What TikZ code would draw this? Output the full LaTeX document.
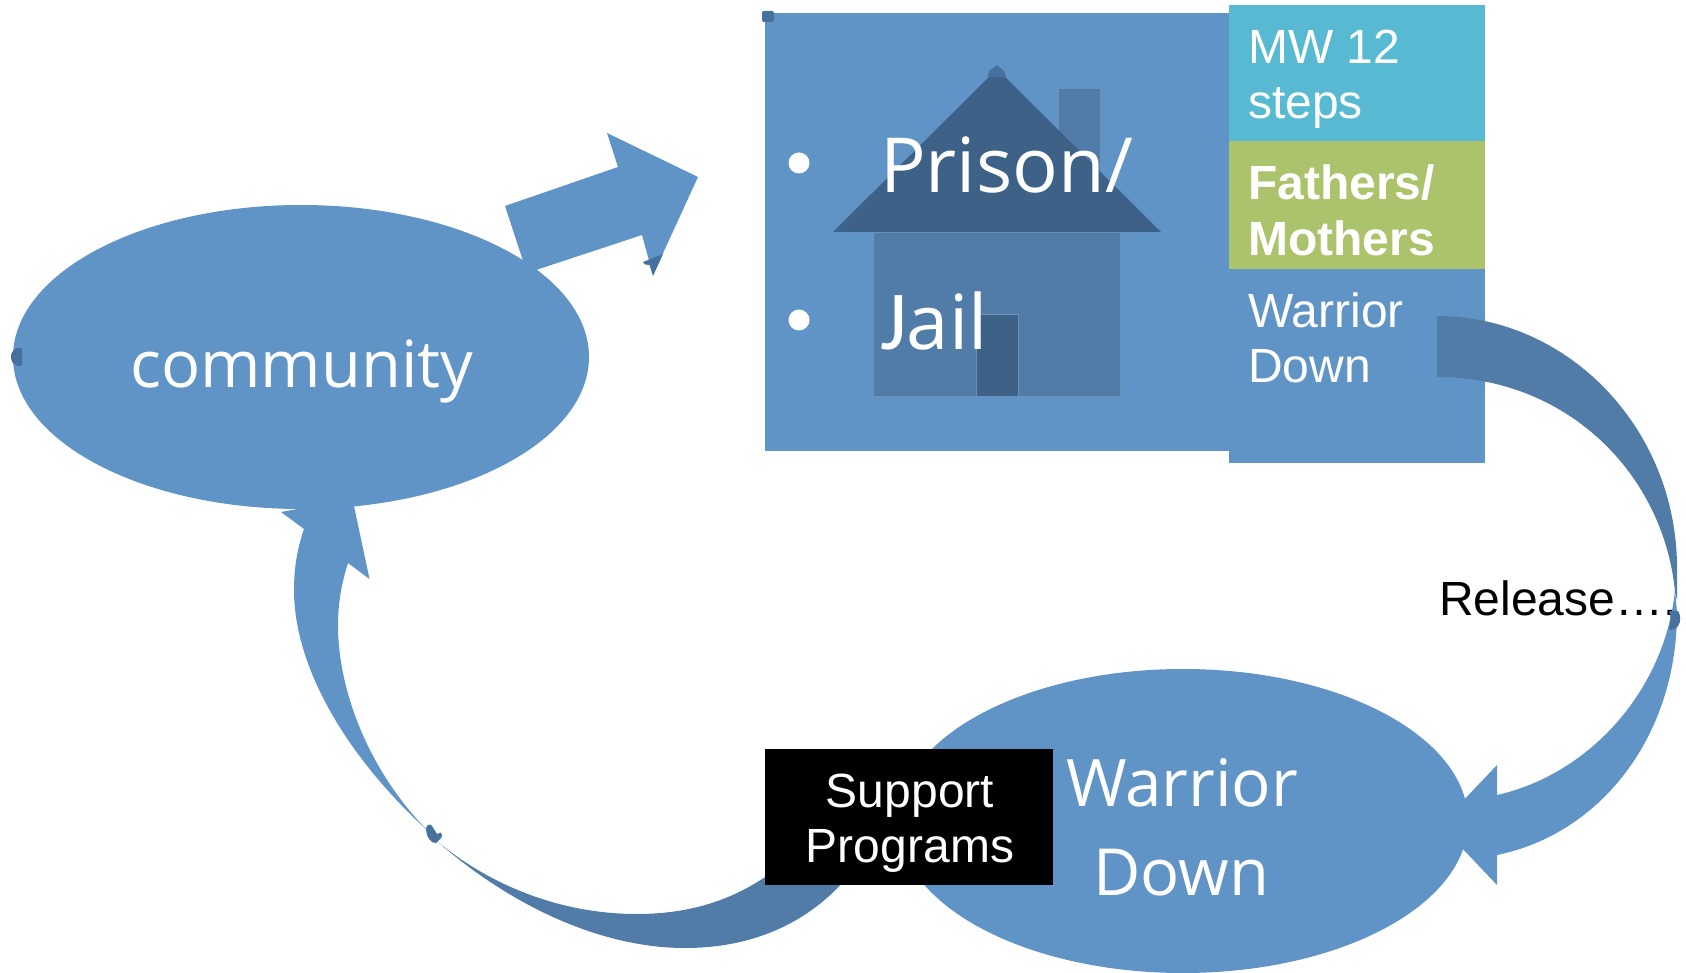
\documentclass[tikz,border=0pt]{standalone}
\usepackage{fontspec}
\setmainfont{Liberation Sans}
\newfontfamily\opensans{Open Sans}
\newfontfamily\carlito{Carlito}
\usetikzlibrary{shapes.geometric}
\definecolor{mainblue}{HTML}{6094C6}
\definecolor{darkarc}{HTML}{517CA8}
\definecolor{roofblue}{HTML}{3E6287}
\definecolor{handleblue}{HTML}{46719F}
\definecolor{houseline}{HTML}{6C90B6}
\definecolor{cyanbox}{HTML}{58B9D2}
\definecolor{greenbox}{HTML}{ABC46C}
\tikzset{
  lbl/.style={anchor=base west,inner sep=0pt,text=white},
  sanslarge/.style={lbl,font=\opensans\fontsize{76}{76}\selectfont},
  sansmid/.style={lbl,font=\opensans\fontsize{65}{65}\selectfont},
  arial/.style={lbl,font=\fontsize{48}{48}\selectfont},
  arialb/.style={lbl,font=\bfseries\fontsize{48}{48}\selectfont},
  ell/.style={ellipse,fill=mainblue,inner sep=0pt},
  panel/.style={anchor=north west,inner sep=0pt,outer sep=0pt},
  housepart/.style={draw=houseline,line width=0.6pt},
}
\begin{document}
\begin{tikzpicture}[x=1pt,y=-1pt]
\useasboundingbox (0,0) rectangle (1686,973);
% arrow from community to prison
\fill[mainblue] (505,206) -- (618,167) -- (607,133) -- (698,177) -- (653,275) -- (642,235) -- (527,273) -- cycle;
\fill[handleblue] (663,254) -- (653,276) -- (649.5,265) -- (645,264.5) -- (643,262) -- cycle;
% ellipses
\node[ell,minimum width=576pt,minimum height=304pt] (community) at (301,357) {};
\node[ell,minimum width=570pt,minimum height=304pt] (warrior) at (1183,821) {};
% right curved arrow: lower part
\fill[mainblue] (1677,612) .. controls (1677,737) and (1600,834) .. (1497,855)
  -- (1497,885) -- (1440,825) -- (1497,765) -- (1497,795)
  .. controls (1590,774) and (1665,690) .. (1675,590) -- cycle;
% right panels
\node[panel,fill=mainblue,minimum width=464pt,minimum height=438pt] (prisonbox) at (765,13) {};
\node[panel,fill=mainblue,minimum width=256pt,minimum height=194pt] (panelwd) at (1229,269) {};
\node[panel,fill=cyanbox,minimum width=256pt,minimum height=136pt] (panelmw) at (1229,5) {};
\node[panel,fill=greenbox,minimum width=256pt,minimum height=128pt] (panelfm) at (1229,141) {};
% house
\filldraw[fill=darkarc,housepart] (1058.5,88) rectangle (1100,180);
\filldraw[fill=darkarc,housepart] (873.5,232) rectangle (1120,396);
\filldraw[fill=roofblue,housepart] (976,314) rectangle (1018,396);
\fill[roofblue] (833,232) -- (992,74) -- (1002,74) -- (1161,232) -- cycle;
\fill[handleblue] (987.5,77) -- (989,71) -- (997,65) -- (1004,71) -- (1006,77) -- cycle;
\fill[handleblue,rounded corners=2pt] (762,11) rectangle (774,22);
% right curved arrow: upper part
\fill[darkarc] (1437,316) .. controls (1569.5,316) and (1677,430) .. (1677,568) -- (1677,600) -- (1675,592)
  .. controls (1664,475) and (1568,377) .. (1437,377) -- cycle;
% left curved arrow: upper (blue) part
\fill[mainblue] (428,831) .. controls (350,760) and (294,670) .. (294,590)
  .. controls (294,565) and (298,547) .. (304,529)
  -- (281,512) -- (352,499) -- (354,506) -- (369.5,579) -- (348,563)
  .. controls (341,585) and (338,605) .. (338,625)
  .. controls (338,690) and (368,770) .. (428,831) -- cycle;
% left curved arrow: lower (dark) part
\fill[darkarc] (438,842) .. controls (510,905) and (600,948) .. (685,948)
  .. controls (750,948) and (805,925) .. (845,880) -- (775,870)
  .. controls (735,900) and (690,914) .. (637,914)
  .. controls (560,914) and (490,885) .. (438,842) -- cycle;
\fill[handleblue] (426,829) .. controls (426,825) and (430,823) .. (432,826) -- (437,834) -- (441,832.5) .. controls (443,834) and (442,837) .. (441,838) -- (436,843) .. controls (431,844) and (426,836) .. (426,829) -- cycle;
% other handle
\fill[handleblue,rounded corners=1.5pt] (22,348) -- (17,348) .. controls (13,350) and (11,354) .. (11,357) .. controls (11,361) and (13,364) .. (17,366) -- (22,366) -- cycle;
% black box
\node[panel,fill=black,minimum width=288pt,minimum height=136pt] (support) at (765,749) {};
% bullets
\fill[white] (799,163) ellipse (10.5 and 10.5);
\fill[white] (799,320) ellipse (10.5 and 10.5);
% labels
\node[sanslarge] (tprison) at (880,193) {Prison/};
\node[lbl] (tjail) at (880,350) {{\carlito\fontsize{84}{84}\selectfont J}{\opensans\fontsize{76}{76}\selectfont ail}};
\node[sansmid] (tcomm) at (130,387) {community};
\node[sansmid,font=\opensans\fontsize{65.5}{66}\selectfont] (twar) at (1066,806) {Warrior};
\node[sansmid] (tdown) at (1093,895) {Down};
\node[arial] (tmw) at (1248,64) {MW 12};
\node[arial] (tsteps) at (1248,119) {steps};
\node[arialb] (tfa) at (1248,200) {Fathers/};
\node[arialb] (tmo) at (1248,256) {Mothers};
\node[arial] (twd1) at (1248,328) {Warrior};
\node[arial] (twd2) at (1248,382) {Down};
\node[arial,anchor=base] (tsup) at (910,807) {Support};
\node[arial,anchor=base] (tprog) at (910,862) {Programs};
\node[arial,text=black] (trel) at (1439,615) {Release….};
\fill[handleblue] (1669,611) -- (1678,611) .. controls (1681,615) and (1681,622) .. (1678,626) .. controls (1676,629) and (1672,631) .. (1669,629) .. controls (1671,622) and (1671,616) .. (1669,611) -- cycle;
\end{tikzpicture}
\end{document}
